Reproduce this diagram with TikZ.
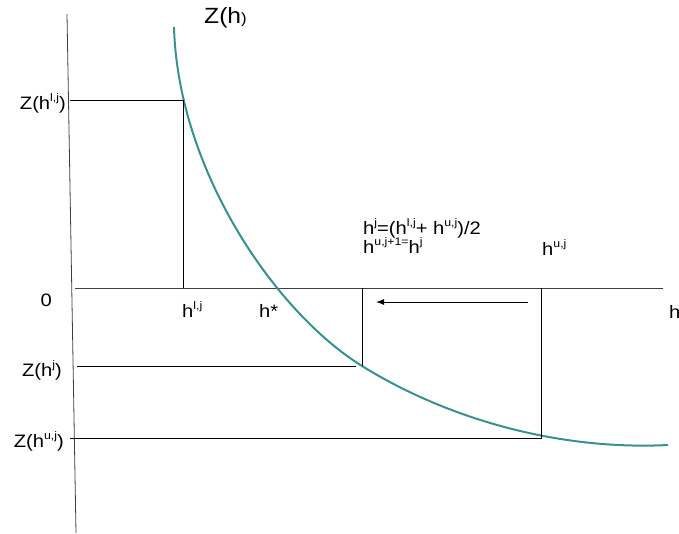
\documentclass[tikz,border=0pt]{standalone}
\usepackage{fontspec}
\setmainfont{Liberation Sans}[FakeStretch=1.12]
\usetikzlibrary{arrows.meta}
\definecolor{curveteal}{RGB}{58,143,145}
\newcommand{\sups}[1]{\raisebox{.42em}{\fontsize{11}{11}\selectfont #1}}

\begin{document}
\begin{tikzpicture}[
        x=1pt, y=-1pt,
        axis/.style={line width=.8pt, draw=black!75},
        guide/.style={line width=1pt},
        zcurve/.style={line width=2pt, draw=curveteal},
        lbl/.style={font=\fontsize{18}{20}\selectfont, inner sep=0pt},
    ]
    \useasboundingbox (0,0) rectangle (679,533);

    %% axes
    \coordinate (ytop) at (67,14);
    \coordinate (ybot) at (76,533);
    \coordinate (xleft) at (75,288);
    \coordinate (xright) at (663,288);
    \draw[axis] (ytop) -- (ybot);
    \draw[axis] (xleft) -- (xright);

    %% lower bound, midpoint and upper bound
    \coordinate (pl) at (183,100);   \coordinate (al) at (183,288);   \coordinate (yl) at (70,100);
    \coordinate (pm) at (362,366);   \coordinate (am) at (362,288);   \coordinate (ym) at (77,366);
    \coordinate (qm) at (356,366);
    \coordinate (pu) at (541,438);   \coordinate (au) at (541,288);   \coordinate (yu) at (70,438);

    %% the function Z(h)
    \coordinate (zstart) at (174,27);
    \coordinate (zend) at (668,445);
    \draw[zcurve] (zstart) .. controls (178,170) and (275,312) .. (pm)
        .. controls (447,418.7) and (558,450.5) .. (zend);
    \node[lbl, anchor=base west] (zh) at (204,23) {\fontsize{22}{24}\selectfont Z(h{\fontsize{15}{15}\selectfont)}};

    %% guides down to the h axis and across to the Z axis
    \draw[guide] (yl) -- (pl) -- (al);
    \draw[guide] (ym) -- (qm);
    \draw[guide] (am) -- (pm);
    \draw[guide] (yu) -- (pu) -- (au);

    %% the upper bound moves to the midpoint
    \coordinate (arrfrom) at (528,302);
    \coordinate (arrto) at (376,302);
    \draw[guide, -{Latex[length=8pt, width=6pt]}] (arrfrom) -- (arrto);

    %% labels on the Z axis
    \node[lbl, anchor=base east] (zl) at (66,109) {Z(h\sups{l,j})};
    \node[lbl, anchor=base east] (zero) at (52,306) {0};
    \node[lbl, anchor=base east] (zj) at (62,376) {Z(h\sups{j})};
    \node[lbl, anchor=base east] (zu) at (64,447) {Z(h\sups{u,j})};

    %% labels on the h axis
    \node[lbl, anchor=base west] (hl) at (182,317) {h\sups{l,j}};
    \node[lbl, anchor=base west] (hstar) at (259,317) {h*};
    \node[lbl, anchor=base west] (hax) at (669,318) {h};
    \node[lbl, anchor=base west] (hu) at (542,255) {h\sups{u,j}};
    \node[lbl, anchor=base west] (hmid) at (363,234) {h\sups{j}=(h\sups{l,j}+ h\sups{u,j})/2};
    \node[lbl, anchor=base west] (hupd) at (363,253) {h\sups{u,j+1=}h\sups{j}};
\end{tikzpicture}
\end{document}
